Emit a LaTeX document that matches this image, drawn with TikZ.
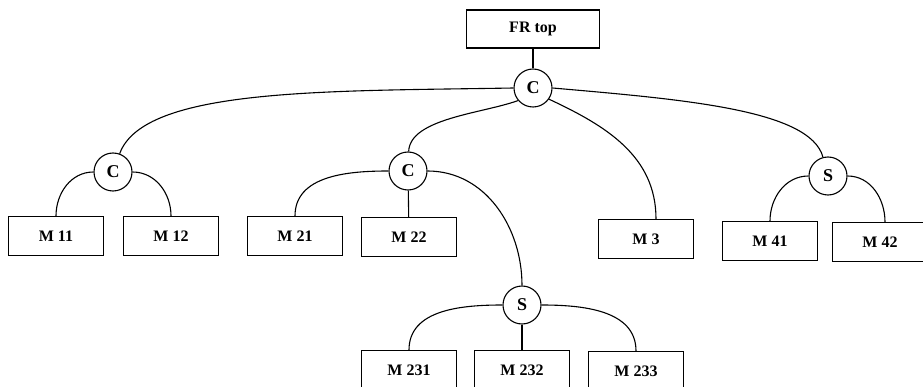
\documentclass[tikz,border=0pt]{standalone}
\usepackage{fontspec}
\setmainfont{Liberation Serif}
\begin{document}
\begin{tikzpicture}[x=1pt,y=-1pt,line width=1.1pt,
		box/.style={draw,minimum width=95pt,minimum height=39pt,inner sep=0pt,font=\fontsize{16}{18}\selectfont\bfseries},
		gate/.style={draw,circle,minimum size=38pt,inner sep=0pt,font=\fontsize{18}{20}\selectfont\bfseries}]
		\useasboundingbox (0,0) rectangle (923,387);
		\node[box,minimum width=133pt,minimum height=38pt] (top) at (533,29) {FR top};
		\node[gate] (c0) at (533,88) {C};
		
		\node[gate] (c1) at (113,172) {C};
		\node[box] (m11) at (56,236) {M 11};
		\node[box] (m12) at (171,236) {M 12};
		
		\node[gate] (c2) at (408,171) {C};
		\node[box] (m21) at (295,236) {M 21};
		\node[box] (m22) at (409,237) {M 22};
		
		\node[gate] (s1) at (522,305) {S};
		\node[box] (m231) at (409,370) {M 231};
		\node[box] (m232) at (522,370) {M 232};
		\node[box] (m233) at (636,371) {M 233};
		
		\node[box] (m3) at (646,239) {M 3};
		
		\node[gate] (s2) at (828,176) {S};
		\node[box] (m41) at (770,241) {M 41};
		\node[box] (m42) at (880,242) {M 42};
		
		\draw (top) -- (c0);
		\draw (c0.west) to[out=181,in=70,out looseness=1.2,in looseness=0.45] (c1);
		\draw (c0.220) to[out=200,in=88,out looseness=0.8,in looseness=0.7] (c2);
		\draw (c0.-35) to[out=-25,in=90] ([xshift=10pt]m3.north);
		\draw (c0.east) to[out=-5,in=105,out looseness=1.2,in looseness=0.45] (s2);
		
		\draw (c1.west) to[out=180,in=90] (m11.north);
		\draw (c1.east) to[out=0,in=90] (m12.north);
		
		\draw (c2.west) to[out=180,in=90] (m21.north);
		\draw (c2) -- (m22);
		\draw (c2.east) to[out=0,in=90] (s1);
		
		\draw (s1.west) to[out=180,in=90] (m231.north);
		\draw (s1) -- (m232);
		\draw (s1.east) to[out=0,in=90] (m233.north);
		
		\draw (s2.west) to[out=180,in=90] (m41.north);
		\draw (s2.east) to[out=0,in=90] ([xshift=5pt]m42.north);
\end{tikzpicture}
\end{document}
